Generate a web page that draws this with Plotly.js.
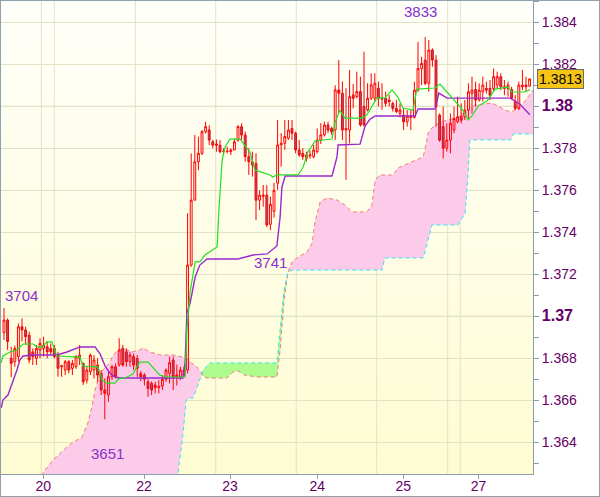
<!DOCTYPE html>
<html>
<head>
<meta charset="utf-8">
<script src="https://cdn.plot.ly/plotly-3.0.1.min.js"></script>
<style>
  html, body { margin: 0; padding: 0; background: #ffffff; }
  #chart {
    width: 598px; height: 495px;
    border: 1px solid #8fa0ae;
    background: linear-gradient(to bottom, #fffffa, #fefcd2) 0 0 / 532px 473px no-repeat, #ffffff;
  }
</style>
</head>
<body>
<div id="chart"></div>
<script>
// ---- hourly candles (bar index 0..146) ----
const barIndex = Array.from({length: 147}, (_, k) => k);

const openP = [
1.36923,1.36982,1.36800,1.36784,1.36808,1.36950,1.36935,1.36910,1.36830,1.36800,
1.36839,1.36847,1.36855,1.36847,1.36847,1.36815,1.36760,1.36744,1.36784,1.36752,
1.36760,1.36800,1.36776,1.36696,1.36736,1.36744,1.36768,1.36728,1.36649,1.36625,
1.36712,1.36760,1.36768,1.36847,1.36831,1.36784,1.36808,1.36799,1.36728,1.36720,
1.36688,1.36680,1.36673,1.36660,1.36668,1.36700,1.36728,1.36792,1.36720,1.36712,
1.36744,1.36744,1.37244,1.37553,1.37736,1.37776,1.37879,1.37887,1.37831,1.37820,
1.37815,1.37784,1.37784,1.37784,1.37792,1.37839,1.37903,1.37863,1.37760,1.37736,
1.37728,1.37553,1.37577,1.37577,1.37438,1.37500,1.37634,1.37816,1.37824,1.37848,
1.37895,1.37872,1.37792,1.37776,1.37752,1.37764,1.37760,1.37784,1.37840,1.37864,
1.37911,1.37895,1.37887,1.38078,1.38062,1.37887,1.37887,1.38054,1.38046,1.38070,
1.37999,1.37983,1.38038,1.38038,1.38086,1.38038,1.38038,1.38030,1.38014,1.37990,
1.37966,1.37958,1.37926,1.37953,1.37947,1.38077,1.38180,1.38220,1.38109,1.38268,
1.38220,1.37958,1.37903,1.37800,1.37839,1.37887,1.37926,1.37953,1.37950,1.37982,
1.38061,1.38080,1.38030,1.38069,1.38085,1.38085,1.38085,1.38101,1.38141,1.38093,
1.38085,1.38080,1.38022,1.37990,1.38093,1.38101,1.38096];

const highP = [
1.37040,1.36990,1.36855,1.36860,1.36966,1.36990,1.36950,1.36927,1.36847,1.36863,
1.36895,1.36903,1.36879,1.36870,1.36863,1.36831,1.36768,1.36792,1.36792,1.36792,
1.36815,1.36863,1.36780,1.36760,1.36823,1.36815,1.36800,1.36744,1.36704,1.36736,
1.36768,1.36776,1.36895,1.36863,1.36847,1.36831,1.36823,1.36815,1.36740,1.36730,
1.36700,1.36690,1.36688,1.36696,1.36720,1.36752,1.36808,1.36808,1.36770,1.36760,
1.36760,1.37490,1.37776,1.37863,1.37855,1.37887,1.37926,1.37910,1.37840,1.37842,
1.37839,1.37800,1.37808,1.37800,1.37847,1.37910,1.37919,1.37879,1.37800,1.37784,
1.37776,1.37600,1.37625,1.37625,1.37570,1.37635,1.37935,1.37872,1.37935,1.37935,
1.37935,1.37880,1.37840,1.37800,1.37784,1.37790,1.37816,1.37895,1.37920,1.37927,
1.37927,1.37903,1.38100,1.38220,1.38118,1.38086,1.38173,1.38106,1.38165,1.38141,
1.38260,1.38110,1.38157,1.38157,1.38118,1.38110,1.38070,1.38054,1.38022,1.38030,
1.38014,1.37990,1.37982,1.37982,1.38117,1.38307,1.38236,1.38330,1.38315,1.38276,
1.38244,1.37966,1.37998,1.37919,1.37966,1.37998,1.38046,1.38014,1.38030,1.38109,
1.38141,1.38117,1.38109,1.38141,1.38117,1.38125,1.38180,1.38165,1.38157,1.38125,
1.38117,1.38093,1.38053,1.38117,1.38173,1.38141,1.38133];

const lowP = [
1.36887,1.36840,1.36710,1.36760,1.36784,1.36880,1.36863,1.36776,1.36768,1.36768,
1.36800,1.36808,1.36800,1.36816,1.36800,1.36712,1.36712,1.36720,1.36728,1.36720,
1.36750,1.36768,1.36673,1.36680,1.36720,1.36704,1.36688,1.36625,1.36510,1.36593,
1.36696,1.36704,1.36760,1.36760,1.36760,1.36760,1.36744,1.36712,1.36690,1.36670,
1.36617,1.36625,1.36633,1.36633,1.36649,1.36688,1.36680,1.36649,1.36670,1.36696,
1.36712,1.36728,1.37236,1.37553,1.37696,1.37768,1.37871,1.37815,1.37800,1.37784,
1.37776,1.37768,1.37776,1.37768,1.37792,1.37831,1.37839,1.37736,1.37673,1.37665,
1.37458,1.37506,1.37522,1.37425,1.37410,1.37470,1.37602,1.37713,1.37792,1.37840,
1.37840,1.37776,1.37760,1.37745,1.37737,1.37750,1.37752,1.37776,1.37820,1.37856,
1.37872,1.37864,1.37840,1.37967,1.37840,1.37650,1.37824,1.37990,1.38038,1.37903,
1.37903,1.37975,1.38030,1.38022,1.37999,1.37983,1.37999,1.37999,1.37975,1.37967,
1.37947,1.37887,1.37903,1.37887,1.37942,1.38069,1.38101,1.38101,1.38069,1.38188,
1.37903,1.37831,1.37752,1.37784,1.37776,1.37871,1.37919,1.37919,1.37934,1.37942,
1.37966,1.37998,1.38022,1.38022,1.38061,1.38030,1.38069,1.38085,1.38077,1.38053,
1.38046,1.38030,1.37982,1.37982,1.38077,1.38069,1.38093];

const closeP = [
1.36982,1.36880,1.36776,1.36847,1.36950,1.36935,1.36903,1.36792,1.36808,1.36847,
1.36871,1.36863,1.36831,1.36831,1.36808,1.36752,1.36765,1.36784,1.36744,1.36776,
1.36808,1.36815,1.36688,1.36744,1.36815,1.36792,1.36720,1.36649,1.36633,1.36712,
1.36760,1.36712,1.36839,1.36768,1.36784,1.36815,1.36768,1.36752,1.36712,1.36700,
1.36657,1.36649,1.36660,1.36665,1.36700,1.36744,1.36779,1.36712,1.36712,1.36744,
1.36720,1.37244,1.37553,1.37736,1.37776,1.37879,1.37903,1.37839,1.37815,1.37815,
1.37784,1.37786,1.37786,1.37792,1.37831,1.37903,1.37863,1.37760,1.37736,1.37720,
1.37553,1.37577,1.37572,1.37435,1.37533,1.37600,1.37816,1.37824,1.37856,1.37887,
1.37872,1.37792,1.37768,1.37760,1.37768,1.37768,1.37792,1.37840,1.37864,1.37911,
1.37887,1.37879,1.38078,1.38062,1.37887,1.37895,1.38046,1.38038,1.38070,1.37911,
1.37911,1.38038,1.38102,1.38110,1.38038,1.38035,1.38014,1.38022,1.37990,1.37975,
1.37982,1.37926,1.37953,1.37947,1.38077,1.38180,1.38204,1.38109,1.38268,1.38220,
1.37998,1.37839,1.37800,1.37839,1.37919,1.37942,1.37950,1.37934,1.37982,1.38069,
1.38077,1.38030,1.38077,1.38101,1.38077,1.38053,1.38141,1.38141,1.38093,1.38085,
1.38101,1.38038,1.37990,1.38101,1.38101,1.38093,1.38130];

// ---- Ichimoku lines (bar index, price) ----
const tenkanX = [-0.8,-0.3,1.7,3.6,5.3,8.1,9.2,10.6,11.9,13.3,14.7,21.1,21.9,26.1,27.2,28.6,30.8,31.7,34.2,35.8,
  36.9,37.8,40,41.4,43.3,45.3,50.3,50.8,51.7,53.1,54.4,55.8,57.8,59.2,59.7,60.6,61.4,62.8,65.6,66.9,
  68.3,69.7,71.7,73.9,74.7,75.8,81.7,83.1,84.4,86.4,91.1,91.9,93.3,94.7,99.4,100.8,103.6,105.8,107.8,109.4,
  110.8,113.6,114.7,119.7,121.1,122.5,124.4,126.1,127.5,128.9,130,131.7,134.2,136.4,140,141.1,144.4,146.1];
const tenkanY = [1.36778,1.36811,1.36830,1.36840,1.36868,1.36868,1.36854,1.36854,1.36878,1.36878,1.36811,1.36806,1.36763,1.36759,1.36697,1.36682,1.36682,1.36701,1.36711,1.36725,
  1.36759,1.36782,1.36782,1.36754,1.36720,1.36711,1.36711,1.36935,1.37116,1.37259,1.37259,1.37292,1.37316,1.37330,1.37506,1.37744,1.37806,1.37844,1.37844,1.37816,
  1.37782,1.37697,1.37687,1.37673,1.37663,1.37673,1.37673,1.37711,1.37782,1.37835,1.37844,1.37920,1.37982,1.37944,1.37944,1.37959,1.38040,1.38040,1.38078,1.38044,
  1.37992,1.37982,1.38082,1.38087,1.38106,1.38078,1.38044,1.38006,1.37982,1.37935,1.37954,1.38001,1.38025,1.38082,1.38092,1.38068,1.38068,1.38078];

const kijunX = [-0.8,-0.3,1.1,2.5,3.6,4.4,5.3,8.1,14.7,17.5,18.9,21.1,25.3,26.7,28.1,29.4,30.8,32.2,49.7,50.3,
  50.8,51.7,53.1,54.4,56.4,65,69.2,73.1,75.8,76.7,77.2,78.1,91.1,92.5,92.8,98.9,100.3,101.7,103.1,114.2,
  115,119.7,120.8,123.1,140.6,143.3,145.6,146.1];
const kijunY = [1.36563,1.36601,1.36625,1.36687,1.36744,1.36792,1.36811,1.36816,1.36816,1.36830,1.36840,1.36854,1.36854,1.36821,1.36763,1.36730,1.36711,1.36706,1.36706,1.36778,
  1.37016,1.37063,1.37187,1.37244,1.37273,1.37273,1.37292,1.37297,1.37335,1.37473,1.37616,1.37668,1.37668,1.37759,1.37816,1.37820,1.37906,1.37939,1.37954,1.37954,
  1.37987,1.37987,1.38063,1.38039,1.38039,1.38011,1.37968,1.37960];

const spanX = [-1.1,10,10.8,13.6,17.5,18.9,21.7,23.3,24.4,25.3,26.7,29.4,30.3,31.7,33.6,35.6,37.8,38.6,40.6,43.3,
  46.9,48.3,49.7,50.6,51.7,52.5,53.6,54.7,55.3,56.4,57.2,61.9,63.6,65,66.9,70.3,75.8,76.7,77.8,78.9,
  80,81.7,84.2,85.6,86.4,87.8,89.7,92.5,94.7,96.7,100.8,102.2,103.1,104.4,105,105.8,108.1,109.4,116.4,116.9,
  117.8,118.9,119.2,121.1,125.3,126.1,128.1,128.9,129.4,130.8,135.6,139.2,140.8,141.4,143.9,147];
const spanA = [1.36125,1.36220,1.36254,1.36316,1.36378,1.36397,1.36425,1.36492,1.36568,1.36649,1.36730,1.36778,1.36816,1.36840,1.36844,1.36830,1.36840,1.36849,1.36830,1.36816,
  1.36816,1.36811,1.36806,1.36801,1.36782,1.36773,1.36759,1.36735,1.36716,1.36706,1.36706,1.36706,1.36735,1.36740,1.36720,1.36711,1.36711,1.36840,1.37078,1.37211,
  1.37259,1.37282,1.37306,1.37349,1.37449,1.37544,1.37563,1.37554,1.37530,1.37497,1.37497,1.37530,1.37649,1.37673,1.37673,1.37673,1.37673,1.37706,1.37759,1.37792,
  1.37873,1.37897,1.37901,1.37925,1.37944,1.37949,1.37973,1.37982,1.37992,1.38006,1.38016,1.37982,1.37973,1.37978,1.38006,1.38078];
const spanB = [1.36000,1.36000,1.36000,1.36000,1.36000,1.36000,1.36000,1.36000,1.36000,1.36000,1.36000,1.36000,1.36000,1.36000,1.36000,1.36000,1.36000,1.36000,1.36000,1.36000,
  1.36150,1.36249,1.36435,1.36601,1.36611,1.36611,1.36659,1.36720,1.36744,1.36763,1.36778,1.36778,1.36778,1.36778,1.36778,1.36778,1.36778,1.36935,1.37125,1.37211,
  1.37220,1.37220,1.37220,1.37220,1.37220,1.37220,1.37220,1.37220,1.37220,1.37220,1.37220,1.37220,1.37220,1.37220,1.37220,1.37278,1.37278,1.37278,1.37278,1.37306,
  1.37363,1.37435,1.37435,1.37435,1.37435,1.37435,1.37492,1.37673,1.37840,1.37840,1.37840,1.37840,1.37840,1.37868,1.37868,1.37868];

// ---- axis labels, grid, marks ----
const dayTickVals = [10.9, 38.9, 62.8, 87.0, 110.9, 131.8];
const dayTickText = ['20', '22', '23', '24', '25', '27'];
const priceTicks = [1.364,1.366,1.368,1.370,1.372,1.374,1.376,1.378,1.380,1.382,1.384];
const priceTickText = ['1.364','1.366','1.368','<span style="font-size:16px"><b>1.37</b></span>','1.372','1.374','1.376','1.378','<span style="font-size:16px"><b>1.38</b></span>','1.382','1.384'];
const minorPriceTicks = [1.363,1.365,1.367,1.369,1.371,1.373,1.375,1.377,1.379,1.381,1.383,1.385];
const timeGridX = [10.36, 13.97, 36.47, 58.81, 81.19, 103.53, 123.25, 126.75];
const strongGridY = [1.37, 1.38];
const markIdx = [0, 28, 74, 117];
const markKind = ['high', 'low', 'low', 'high'];
const lastPrice = '1.3813';

const X_RANGE = [-0.833, 146.944];
const Y_RANGE = [1.36249, 1.385014];

const spanLo = spanA.map((a, k) => Math.min(a, spanB[k]));
const noLine = {width: 0, color: 'rgba(0,0,0,0)'};

const traces = [
  // cloud (bottom subplot)
  {x: spanX, y: spanLo, mode: 'lines', line: noLine, hoverinfo: 'skip'},
  {x: spanX, y: spanA, mode: 'lines', line: noLine, fill: 'tonexty', fillcolor: '#fdcbea', hoverinfo: 'skip'},
  {x: spanX, y: spanLo, mode: 'lines', line: noLine, hoverinfo: 'skip'},
  {x: spanX, y: spanB, mode: 'lines', line: noLine, fill: 'tonexty', fillcolor: '#aefc8e', hoverinfo: 'skip'},
  {x: spanX, y: spanA, mode: 'lines', line: {color: '#f47a7a', width: 1, dash: '4px,3px'}, hoverinfo: 'skip'},
  {x: spanX, y: spanB, mode: 'lines', line: {color: '#2ee6f2', width: 1, dash: '4px,3px'}, hoverinfo: 'skip'},
  // candles + lines (overlay subplot, drawn above the cloud)
  {type: 'candlestick', x: barIndex, open: openP, high: highP, low: lowP, close: closeP,
   xaxis: 'x2', yaxis: 'y2',
   increasing: {line: {color: '#ff0000', width: 1}, fillcolor: 'rgba(0,0,0,0)'},
   decreasing: {line: {color: '#ff0000', width: 1}, fillcolor: '#7a6090'},
   whiskerwidth: 0, hoverinfo: 'skip'},
  {x: kijunX, y: kijunY, xaxis: 'x2', yaxis: 'y2', mode: 'lines', line: {color: '#9a28cc', width: 1.4}, hoverinfo: 'skip'},
  {x: tenkanX, y: tenkanY, xaxis: 'x2', yaxis: 'y2', mode: 'lines', line: {color: '#22e022', width: 1.2}, hoverinfo: 'skip'}
];

const shapes = [];
timeGridX.forEach(v => shapes.push({type: 'line', xref: 'x', yref: 'paper', x0: v, x1: v, y0: 0, y1: 1,
  line: {color: '#e2e2c6', width: 1}, layer: 'below'}));
strongGridY.forEach(v => shapes.push({type: 'line', xref: 'paper', yref: 'y', x0: 0, x1: 1, y0: v, y1: v,
  line: {color: '#d0d0ac', width: 1}, layer: 'below'}));

const labelFont = {family: 'Liberation Sans, Arial, sans-serif', size: 15, color: '#8a30cc'};
const annotations = markIdx.map((k, n) => {
  const isHigh = markKind[n] === 'high';
  const val = isHigh ? highP[k] : lowP[k];
  const txt = String(Math.round(val * 10000)).slice(-4);
  const a = {x: k, y: val, xref: 'x', yref: 'y', text: txt, showarrow: false, font: labelFont,
    yanchor: isHigh ? 'bottom' : 'top'};
  if (n === 0) { a.xanchor = 'left'; a.xshift = -1; a.yshift = 2; }
  else if (n === 1) { a.xshift = 3; a.yshift = -24; }
  else if (n === 2) { a.xshift = 0; a.yshift = -22; }
  else { a.xshift = -5; a.yshift = 15; }
  return a;
});
annotations.push({x: 1.0526, y: closeP[closeP.length - 1], xref: 'paper', yref: 'y', text: lastPrice,
  xanchor: 'center', yanchor: 'middle',
  showarrow: false, font: {family: 'Liberation Sans, Arial, sans-serif', size: 14, color: '#000000'},
  bgcolor: '#f5c414', bordercolor: '#6b6b6b', borderwidth: 1, borderpad: 1});

const layout = {
  width: 598, height: 495,
  margin: {l: 0, r: 66, t: 0, b: 22, pad: 0},
  paper_bgcolor: 'rgba(0,0,0,0)', plot_bgcolor: 'rgba(0,0,0,0)',
  showlegend: false,
  font: {family: 'Liberation Sans, Arial, sans-serif', color: '#660066'},
  xaxis: {range: X_RANGE, showgrid: false, zeroline: false, showline: true,
    linecolor: '#8d9daa', linewidth: 1, ticks: 'outside', ticklen: 4, tickcolor: '#8d9daa',
    tickmode: 'array', tickvals: dayTickVals, ticktext: dayTickText, ticklabelstandoff: -5,
    tickfont: {size: 14, color: '#660066'}, rangeslider: {visible: false}, fixedrange: true},
  yaxis: {range: Y_RANGE, side: 'right', showgrid: true, gridcolor: '#e2e2c6', gridwidth: 1,
    zeroline: false, showline: true, linecolor: '#8d9daa', linewidth: 1,
    ticks: 'outside', ticklen: 5, tickcolor: '#8d9daa',
    tickmode: 'array', tickvals: priceTicks, ticktext: priceTickText,
    tickfont: {size: 14, color: '#660066'},
    minor: {tickmode: 'array', tickvals: minorPriceTicks, ticks: 'outside', ticklen: 5, tickcolor: '#8d9daa', showgrid: false},
    fixedrange: true},
  xaxis2: {range: X_RANGE, overlaying: 'x', visible: false, showgrid: false, zeroline: false,
    rangeslider: {visible: false}, fixedrange: true},
  yaxis2: {range: Y_RANGE, overlaying: 'y', side: 'right', visible: false, showgrid: false, zeroline: false, fixedrange: true},
  boxgap: 0.25,
  shapes: shapes,
  annotations: annotations
};

Plotly.newPlot('chart', traces, layout, {staticPlot: true, displayModeBar: false});
</script>
</body>
</html>
